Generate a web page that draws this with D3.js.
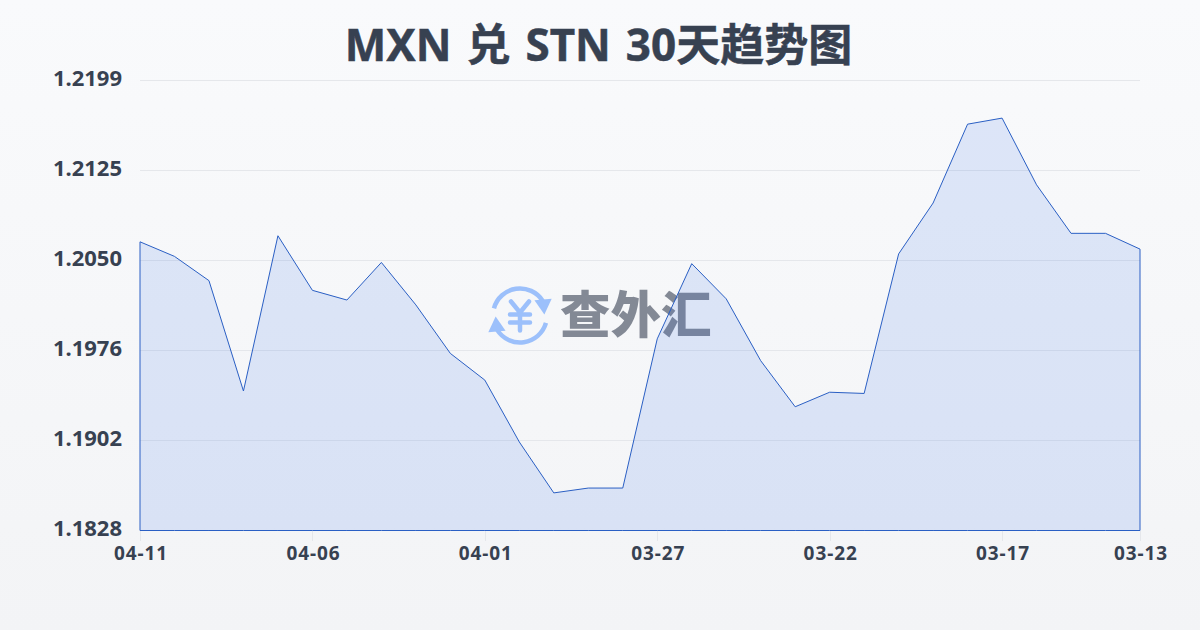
<!DOCTYPE html>
<html lang="zh"><head><meta charset="utf-8">
<script src="https://cdn.jsdelivr.net/npm/d3@7/dist/d3.min.js"></script>
<style>html,body{margin:0;padding:0;overflow:hidden;background:#f5f6f8}svg{display:block}
text{font-family:"Noto Sans","Noto Sans CJK SC",sans-serif}</style></head><body>
<svg id="c" width="1200" height="630"></svg>
<script>
const titleText = "MXN 兑 STN 30天趋势图";
const watermarkText = "查外汇";
const dayLabels = ["04-11","04-10","04-09","04-08","04-07","04-06","04-05","04-04","04-03","04-02","04-01","03-31","03-30","03-29","03-28","03-27","03-26","03-25","03-24","03-23","03-22","03-21","03-20","03-19","03-18","03-17","03-16","03-15","03-14","03-13"];
const rates = [1.2066,1.2054,1.2034,1.1943,1.2071,1.2026,1.2018,1.2049,1.2014,1.1974,1.1952,1.1901,1.1859,1.1863,1.1863,1.1986,1.2048,1.2019,1.1968,1.1930,1.1942,1.1941,1.2056,1.2098,1.2163,1.2168,1.2113,1.2073,1.2073,1.2060];
const xTickLabels = ["04-11","04-06","04-01","03-27","03-22","03-17","03-13"];
const yTickValues = [1.1828,1.19022,1.19764,1.20504,1.21248,1.2199];

const svg = d3.select("#c");
const defs = svg.append("defs");
const bg = defs.append("linearGradient").attr("id","bg").attr("x1",0).attr("y1",0).attr("x2",0).attr("y2",1);
bg.append("stop").attr("offset",0).attr("stop-color","#f9fafc");
bg.append("stop").attr("offset",1).attr("stop-color","#f3f4f6");
svg.append("rect").attr("width",1200).attr("height",630).attr("fill","url(#bg)");

const x = d3.scalePoint().domain(dayLabels).range([140,1140]);
const y = d3.scaleLinear().domain([1.1828,1.2199]).range([530.5,80.5]);

svg.append("text").attr("x",598.5).attr("y",60.5).attr("text-anchor","middle")
  .attr("font-size",44).attr("font-weight",700).attr("word-spacing",3.5)
  .attr("stroke","#374151").attr("stroke-width",.5).attr("fill","#374151").text(titleText);

// grid
const gridRow = d => Math.floor(y(d)) + .5;
svg.append("g").selectAll("line").data(yTickValues).join("line")
  .attr("x1",140).attr("x2",1140).attr("y1",gridRow).attr("y2",gridRow)
  .attr("stroke","#e5e7eb").attr("stroke-width",1);

// watermark
const wm = svg.append("g");
const icon = wm.append("g").attr("transform","translate(520,315.5)");
const logoBlue = "#9cc0fb";
icon.append("path").attr("d",d3.arc()({innerRadius:27,outerRadius:27,startAngle:-1.3,endAngle:1.0}))
  .attr("fill","none").attr("stroke",logoBlue).attr("stroke-width",4.5).attr("stroke-linecap","round");
icon.append("path").attr("d",d3.arc()({innerRadius:27,outerRadius:27,startAngle:1.85,endAngle:4.15}))
  .attr("fill","none").attr("stroke",logoBlue).attr("stroke-width",4.5).attr("stroke-linecap","round");
icon.append("path").attr("d",d3.symbol(d3.symbolTriangle,130)()).attr("transform","translate(23.5,-11) rotate(175)").attr("fill",logoBlue);
icon.append("path").attr("d",d3.symbol(d3.symbolTriangle,130)()).attr("transform","translate(-23.5,11) rotate(-5)").attr("fill",logoBlue);
const yen = d3.path();
yen.moveTo(-9,-14); yen.lineTo(0,-3); yen.lineTo(9,-14);
yen.moveTo(-10,-1); yen.lineTo(10,-1);
yen.moveTo(-10,7); yen.lineTo(10,7);
yen.moveTo(0,-3); yen.lineTo(0,15);
icon.append("path").attr("d",yen.toString()).attr("fill","none").attr("stroke",logoBlue)
  .attr("stroke-width",4.5).attr("stroke-linecap","round").attr("stroke-linejoin","round");
wm.append("text").attr("x",560).attr("y",333).attr("font-size",50.5).attr("font-weight",900)
  .attr("style",'font-family:"Noto Sans CJK SC"').attr("fill","#6b7280").attr("opacity",.82).text(watermarkText);

// area + line
const area = d3.area().x((d,i)=>x(dayLabels[i])).y0(530.5).y1(d=>y(d));
svg.append("path").datum(rates).attr("d",area).attr("fill","#2563eb").attr("fill-opacity",.13);
svg.append("path").datum(rates).attr("d",area).attr("fill","none").attr("stroke","#2a5fc4").attr("stroke-width",1);

// y labels
svg.append("g").selectAll("text").data(yTickValues).join("text")
  .attr("x",122).attr("y",d=>y(d)+5.5).attr("text-anchor","end")
  .attr("font-size",22).attr("font-weight",700).attr("fill","#374151").text(d=>d.toFixed(4));

// x axis
const xg = svg.append("g").selectAll("g").data(xTickLabels.map((l,i)=>({l,i}))).join("g");
xg.append("line").attr("x1",d=>Math.round(x(d.l))+.5).attr("x2",d=>Math.round(x(d.l))+.5).attr("y1",531).attr("y2",541).attr("stroke","#e5e7eb");
xg.append("text").attr("x",d=>x(d.l)+1).attr("y",560).attr("text-anchor","middle")
  .attr("font-size",19).attr("letter-spacing",.9).attr("font-weight",700).attr("fill","#374151").text(d=>d.l);
</script></body></html>
